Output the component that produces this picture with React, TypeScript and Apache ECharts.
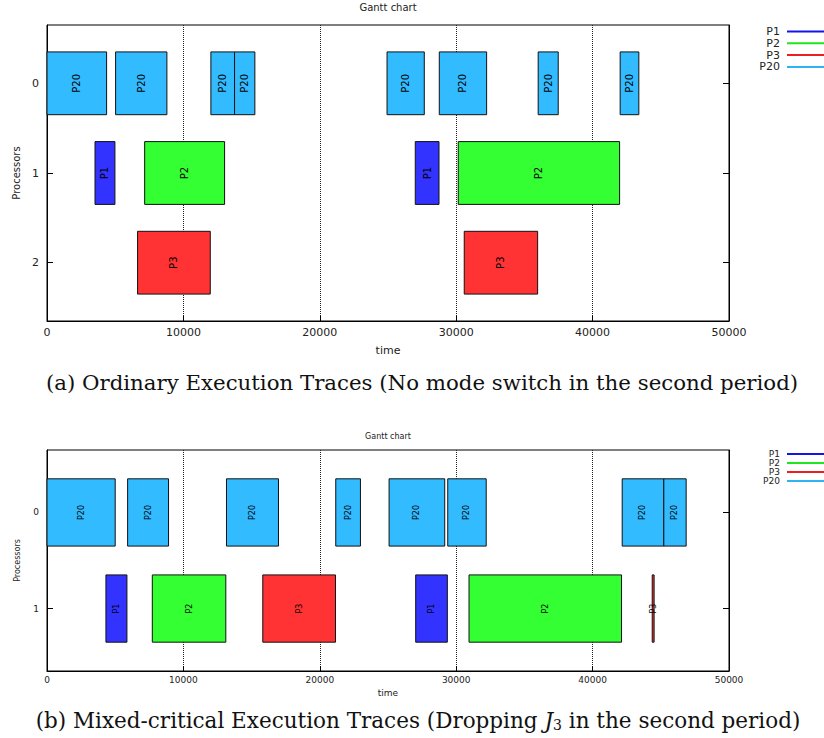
import React, { useEffect, useRef } from "react";
import * as echarts from "echarts";

const TASKS = ["P1", "P2", "P3", "P20"];
const FILL = ["#3333ff", "#33ff33", "#ff3333", "#33bbff"];
const LEGEND_LINE = ["#1414e6", "#1fe61f", "#eb1f1f", "#2eb4f5"];

// [start, end, processor]
const topP1 = [[3520, 4980, 1], [27000, 28740, 1]];
const topP2 = [[7160, 13020, 1], [30150, 41980, 1]];
const topP3 = [[6640, 11970, 2], [30590, 35970, 2]];
const topP20 = [
  [0, 4370, 0], [5030, 8790, 0], [12015, 13750, 0], [13750, 15240, 0],
  [24930, 27660, 0], [28760, 32230, 0], [36010, 37480, 0], [42020, 43390, 0],
];

const botP1 = [[4320, 5860, 1], [27030, 29350, 1]];
const botP2 = [[7720, 13110, 1], [30940, 42120, 1]];
const botP3 = [[15820, 21150, 1], [44370, 44510, 1]];
const botP20 = [
  [0, 5000, 0], [5910, 8910, 0], [13160, 16970, 0], [21170, 22980, 0],
  [25080, 29160, 0], [29380, 32200, 0], [42170, 45220, 0], [45220, 46860, 0],
];

const topProcessors = [0, 1, 2];
const botProcessors = [0, 1];

const captionA = "(a) Ordinary Execution Traces (No mode switch in the second period)";
const captionB = "(b) Mixed-critical Execution Traces (Dropping {i|J}{s|3} in the second period)";

export default function App() {
  const ref = useRef<HTMLDivElement>(null);
  useEffect(() => {
    if (!ref.current) return;
    const chart = echarts.init(ref.current, null, { renderer: "svg" });
    const FONT = "DejaVu Sans";

    const makeSeries = (data: number[][], ti: number, idx: number, labelSize: number) => ({
      type: "custom",
      name: TASKS[ti],
      xAxisIndex: idx,
      yAxisIndex: idx * 2,
      encode: { x: [0, 1], y: 2 },
      data,
      clip: false,
      renderItem: (params: any, api: any) => {
        const s = api.coord([api.value(0), api.value(2)]);
        const e = api.coord([api.value(1), api.value(2)]);
        const h = Math.abs(api.size([0, 0.7])[1]);
        const x = s[0];
        const w = e[0] - s[0];
        const y = s[1] - h / 2;
        return {
          type: "group",
          children: [
            {
              type: "rect",
              shape: { x, y, width: w, height: h },
              style: { fill: FILL[ti], stroke: "#111", lineWidth: 1 },
            },
            {
              type: "text",
              x: x + w / 2,
              y: s[1],
              rotation: Math.PI / 2,
              style: {
                text: TASKS[ti],
                fill: "#000",
                fontSize: labelSize,
                fontFamily: FONT,
                align: "center",
                verticalAlign: "middle",
              },
            },
          ],
        };
      },
    });

    const xAxis = (gi: number, fs: number, margin: number, nameGap: number) => ({
      type: "value",
      gridIndex: gi,
      min: 0,
      max: 50000,
      interval: 10000,
      name: "time",
      nameLocation: "middle",
      nameGap,
      nameTextStyle: { fontSize: fs, fontFamily: FONT, color: "#222" },
      axisLine: { show: true, onZero: false, lineStyle: { color: "#000", width: 1 } },
      axisTick: { show: true, inside: true, length: 5, lineStyle: { color: "#000" } },
      axisLabel: { fontSize: fs, fontFamily: FONT, color: "#222", margin, formatter: (v: number) => String(v) },
      splitLine: { show: true, lineStyle: { type: "dotted", color: "#222", width: 1 } },
    });

    const yAxis = (gi: number, ticks: number[], max: number, fs: number, nameFs: number, nameGap: number, right: boolean) => ({
      type: "value",
      gridIndex: gi,
      min: -0.65,
      max,
      inverse: true,
      position: right ? "right" : "left",
      name: right ? "" : "Processors",
      nameLocation: "middle",
      nameGap,
      nameTextStyle: { fontSize: nameFs, fontFamily: FONT, color: "#222" },
      axisLine: { show: true, onZero: false, lineStyle: { color: "#000", width: 1 } },
      axisTick: { show: true, inside: true, length: 6, customValues: ticks, lineStyle: { color: "#000" } },
      axisLabel: { show: !right, fontSize: fs, fontFamily: FONT, color: "#222", margin: 8, customValues: ticks },
      splitLine: { show: false },
    });

    const legend = (y0: number, gap: number, fs: number) =>
      TASKS.flatMap((t, i) => [
        {
          type: "text",
          x: 780,
          y: y0 + i * gap,
          style: { text: t, fontSize: fs, fontFamily: FONT, fill: "#222", align: "right", verticalAlign: "middle" },
        },
        {
          type: "line",
          shape: { x1: 787, y1: y0 + i * gap, x2: 830, y2: y0 + i * gap },
          style: { stroke: LEGEND_LINE[i], lineWidth: 2 },
        },
      ]);

    chart.setOption({
      animation: false,
      backgroundColor: "#fff",
      grid: [
        { left: 47, top: 25, width: 682, height: 296, show: true, borderColor: "#000", borderWidth: 1, backgroundColor: "transparent" },
        { left: 47, top: 450, width: 682, height: 221, show: true, borderColor: "#000", borderWidth: 1, backgroundColor: "transparent" },
      ],
      xAxis: [xAxis(0, 11, 6, 24), xAxis(1, 9, 4, 17)],
      yAxis: [
        yAxis(0, topProcessors, 2.65, 11, 10, 25, false),
        yAxis(0, topProcessors, 2.65, 11, 10, 25, true),
        yAxis(1, botProcessors, 1.65, 9, 8, 26, false),
        yAxis(1, botProcessors, 1.65, 9, 8, 26, true),
      ],
      series: [
        makeSeries(topP1, 0, 0, 10),
        makeSeries(topP2, 1, 0, 10),
        makeSeries(topP3, 2, 0, 10),
        makeSeries(topP20, 3, 0, 10),
        makeSeries(botP1, 0, 1, 8),
        makeSeries(botP2, 1, 1, 8),
        makeSeries(botP3, 2, 1, 8),
        makeSeries(botP20, 3, 1, 8),
      ],
      graphic: [
        {
          type: "text",
          x: 388,
          y: 7,
          style: { text: "Gantt chart", fontSize: 10, fontFamily: FONT, fill: "#222", align: "center", verticalAlign: "middle" },
        },
        {
          type: "text",
          x: 388,
          y: 436,
          style: { text: "Gantt chart", fontSize: 8, fontFamily: FONT, fill: "#222", align: "center", verticalAlign: "middle" },
        },
        ...legend(31.5, 11.8, 11),
        ...legend(454, 9, 9),
        {
          type: "text",
          x: 422,
          y: 382,
          style: { text: captionA, fontSize: 21.3, fontFamily: "DejaVu Serif", fill: "#111", align: "center", verticalAlign: "middle" },
        },
        {
          type: "text",
          x: 418,
          y: 720,
          style: {
            text: captionB,
            fontSize: 21.5,
            fontFamily: "DejaVu Serif",
            fill: "#111",
            align: "center",
            verticalAlign: "middle",
            rich: {
              i: { fontSize: 21.5, fontFamily: "DejaVu Serif", fontStyle: "italic", fill: "#111" },
              s: { fontSize: 14, fontFamily: "DejaVu Serif", fill: "#111", padding: [10, 0, 0, 0] },
            },
          },
        },
      ],
    });
    return () => chart.dispose();
  }, []);
  return <div ref={ref} style={{ position: "absolute", left: 0, top: 0, width: 824, height: 738 }} />;
}
